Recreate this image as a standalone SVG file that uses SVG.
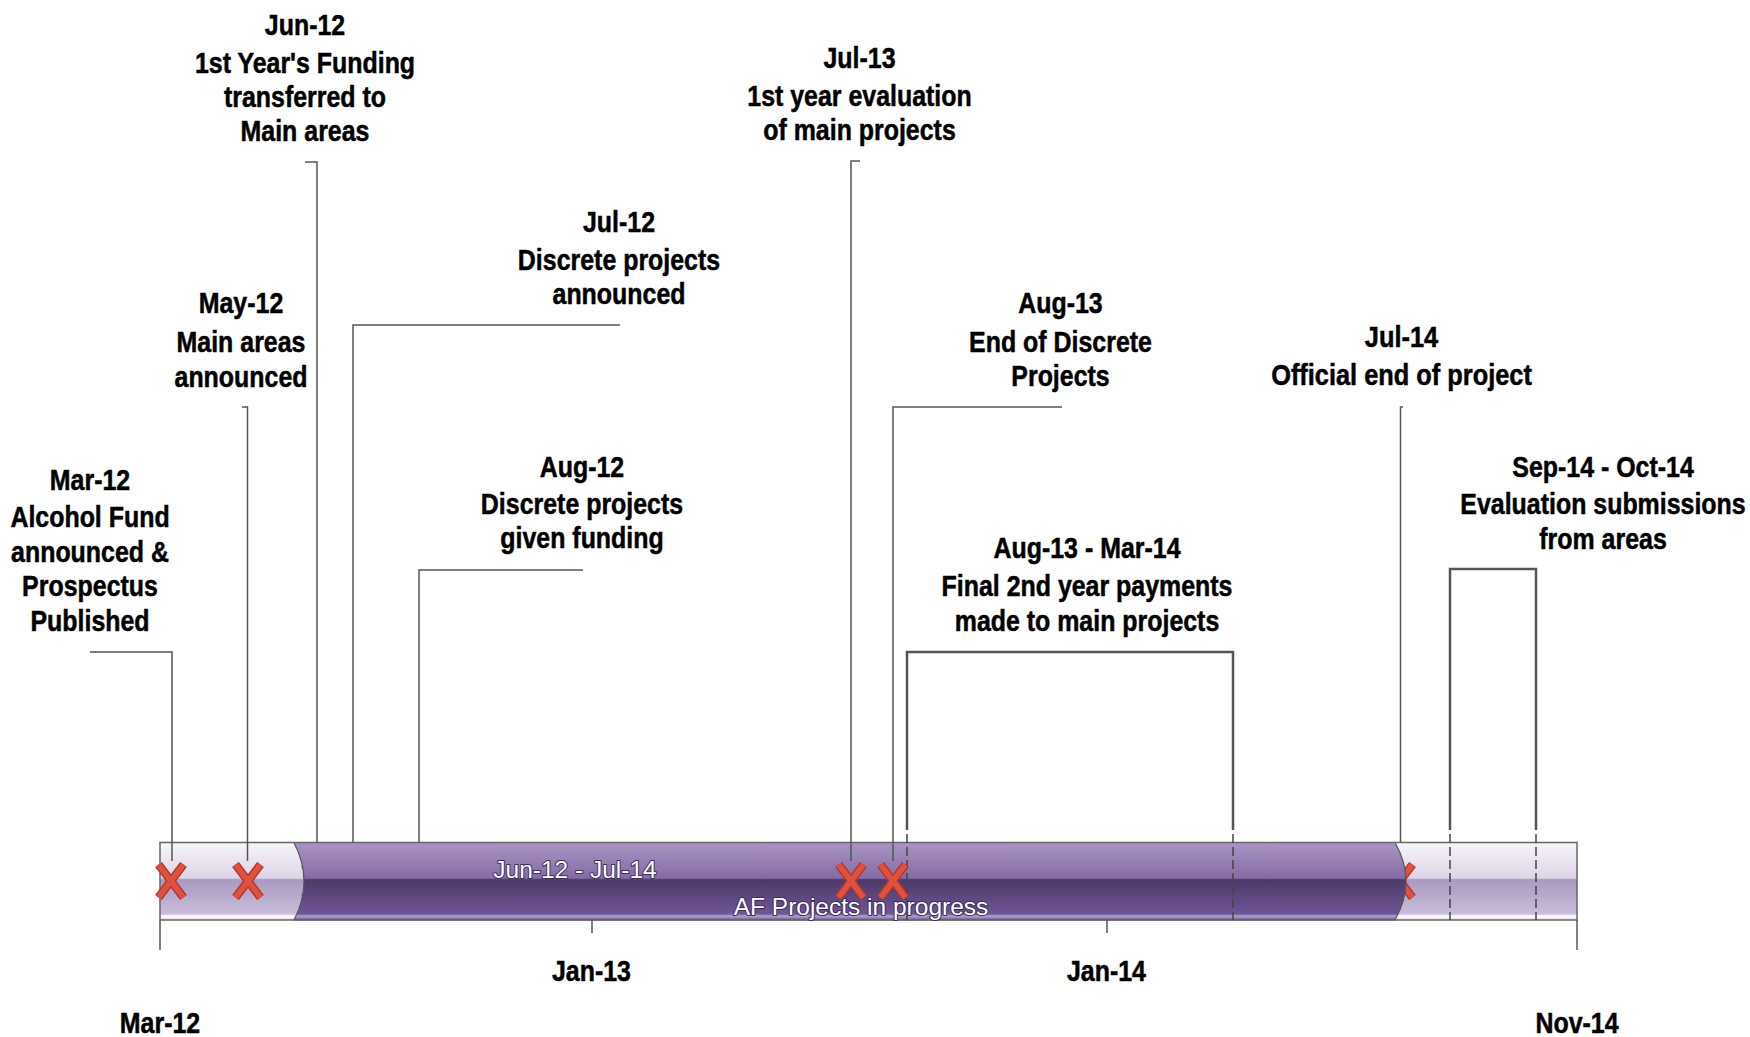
<svg xmlns="http://www.w3.org/2000/svg" width="1750" height="1037" viewBox="0 0 1750 1037">
<style>
.lbl{font-family:"Liberation Sans",Arial,sans-serif;font-weight:bold;font-size:29px;fill:#000;stroke:#000;stroke-width:0.5;text-anchor:middle}
.bartxt{font-family:"Liberation Sans",Arial,sans-serif;font-size:24.5px;fill:#fff;stroke:#3d2d58;stroke-width:2;paint-order:stroke;stroke-linejoin:round;text-anchor:middle}
.ldr{stroke:#555;stroke-width:1.5;fill:none}
.brk{stroke:#555;stroke-width:2.5;fill:none}
.dash{stroke:#444;stroke-width:1.5;stroke-dasharray:9 4;fill:none}
.tick{stroke:#555;stroke-width:1.5;fill:none}
</style>
<defs>
<linearGradient id="gLight" x1="0" y1="0" x2="0" y2="1">
<stop offset="0" stop-color="#f7f5fa"/>
<stop offset="0.46" stop-color="#ddd4e7"/>
<stop offset="0.48" stop-color="#a999c0"/>
<stop offset="0.92" stop-color="#c9bdda"/>
<stop offset="0.95" stop-color="#ffffff"/>
<stop offset="1" stop-color="#e0d8ea"/>
</linearGradient>
<linearGradient id="gPurple" x1="0" y1="0" x2="0" y2="1">
<stop offset="0" stop-color="#a995c4"/>
<stop offset="0.46" stop-color="#866ba5"/>
<stop offset="0.48" stop-color="#4d3a68"/>
<stop offset="0.92" stop-color="#6f5596"/>
<stop offset="0.95" stop-color="#b3a3cf"/>
<stop offset="1" stop-color="#6f5596"/>
</linearGradient>
<g id="xm">
<path d="M-12.5,-16.5 L12.5,16.5 M-12.5,16.5 L12.5,-16.5" stroke="#b3362c" stroke-width="8.5" fill="none"/>
<path d="M-12.5,-16.5 L12.5,16.5 M-12.5,16.5 L12.5,-16.5" stroke="#e0503f" stroke-width="5.5" fill="none"/>
</g>
</defs>
<rect width="1750" height="1037" fill="#fff"/>

<g id="timeline-bar">
<rect x="160" y="842.5" width="1417" height="77.5" fill="url(#gLight)"/>
<use href="#xm" x="317" y="881"/>
<use href="#xm" x="1400" y="881"/>
<path d="M294,842.5 L1395,842.5 Q1417,881 1395,920 L294,920 Q314,881 294,842.5 Z" fill="url(#gPurple)" stroke="#555" stroke-width="1.2"/>
<rect x="160" y="842.5" width="1417" height="77.5" fill="none" stroke="#666" stroke-width="1.5"/>
<text class="bartxt" x="575" y="878">Jun-12 - Jul-14</text>
</g>

<g id="connectors">
<path class="ldr" d="M90,652 H172 V861"/>
<path class="ldr" d="M242,407 H247.5 V861"/>
<path class="ldr" d="M305,162 H317 V842"/>
<path class="ldr" d="M620,325 H353 V842"/>
<path class="ldr" d="M583,570 H419 V842"/>
<path class="ldr" d="M860,161 H851 V861"/>
<path class="ldr" d="M1062,407 H893 V861"/>
<path class="ldr" d="M1403,407 H1400.5 V842"/>
<path class="brk" d="M907,830 V652 H1233 V830"/>
<path class="brk" d="M1450,830 V569 H1536 V830"/>
<path class="dash" d="M907,834 V920 M1233,834 V920 M1450,834 V920 M1536,834 V920"/>
<path class="tick" d="M160,920 V950 M592,920 V933 M1107,920 V933 M1577,920 V950"/>
</g>

<g id="markers">
<use href="#xm" x="171" y="881"/>
<use href="#xm" x="248" y="881"/>
<use href="#xm" x="851" y="881"/>
<use href="#xm" x="893" y="881"/>
</g>

<text class="bartxt" x="861" y="915">AF Projects in progress</text>

<g id="n-mar12" transform="translate(90 0) scale(0.86 1)">
<text class="lbl" x="0" y="490">Mar-12</text>
<text class="lbl" x="0" y="527">Alcohol Fund</text>
<text class="lbl" x="0" y="562">announced &amp;</text>
<text class="lbl" x="0" y="596">Prospectus</text>
<text class="lbl" x="0" y="631">Published</text>
</g>
<g id="n-may12" transform="translate(241 0) scale(0.86 1)">
<text class="lbl" x="0" y="313">May-12</text>
<text class="lbl" x="0" y="352">Main areas</text>
<text class="lbl" x="0" y="387">announced</text>
</g>
<g id="n-jun12" transform="translate(305 0) scale(0.86 1)">
<text class="lbl" x="0" y="35">Jun-12</text>
<text class="lbl" x="0" y="73">1st Year's Funding</text>
<text class="lbl" x="0" y="107">transferred to</text>
<text class="lbl" x="0" y="141">Main areas</text>
</g>
<g id="n-jul12" transform="translate(619 0) scale(0.86 1)">
<text class="lbl" x="0" y="232">Jul-12</text>
<text class="lbl" x="0" y="270">Discrete projects</text>
<text class="lbl" x="0" y="304">announced</text>
</g>
<g id="n-aug12" transform="translate(582 0) scale(0.86 1)">
<text class="lbl" x="0" y="477">Aug-12</text>
<text class="lbl" x="0" y="514">Discrete projects</text>
<text class="lbl" x="0" y="548">given funding</text>
</g>
<g id="n-jul13" transform="translate(859.5 0) scale(0.86 1)">
<text class="lbl" x="0" y="68">Jul-13</text>
<text class="lbl" x="0" y="106">1st year evaluation</text>
<text class="lbl" x="0" y="140">of main projects</text>
</g>
<g id="n-aug13" transform="translate(1060.5 0) scale(0.86 1)">
<text class="lbl" x="0" y="313">Aug-13</text>
<text class="lbl" x="0" y="352">End of Discrete</text>
<text class="lbl" x="0" y="386">Projects</text>
</g>
<g id="n-jul14" transform="translate(1401.5 0) scale(0.875 1)">
<text class="lbl" x="0" y="347">Jul-14</text>
<text class="lbl" x="0" y="385">Official end of project</text>
</g>
<g id="n-aug13-mar14" transform="translate(1087 0) scale(0.86 1)">
<text class="lbl" x="0" y="558">Aug-13 - Mar-14</text>
<text class="lbl" x="0" y="596">Final 2nd year payments</text>
<text class="lbl" x="0" y="631">made to main projects</text>
</g>
<g id="n-sep14-oct14" transform="translate(1603 0) scale(0.86 1)">
<text class="lbl" x="0" y="477">Sep-14 - Oct-14</text>
<text class="lbl" x="0" y="514">Evaluation submissions</text>
<text class="lbl" x="0" y="549">from areas</text>
</g>

<g id="axis-labels">
<g transform="translate(160 0) scale(0.86 1)"><text class="lbl" x="0" y="1033">Mar-12</text></g>
<g transform="translate(591.5 0) scale(0.86 1)"><text class="lbl" x="0" y="981">Jan-13</text></g>
<g transform="translate(1106.5 0) scale(0.86 1)"><text class="lbl" x="0" y="981">Jan-14</text></g>
<g transform="translate(1577 0) scale(0.86 1)"><text class="lbl" x="0" y="1033">Nov-14</text></g>
</g>
</svg>
